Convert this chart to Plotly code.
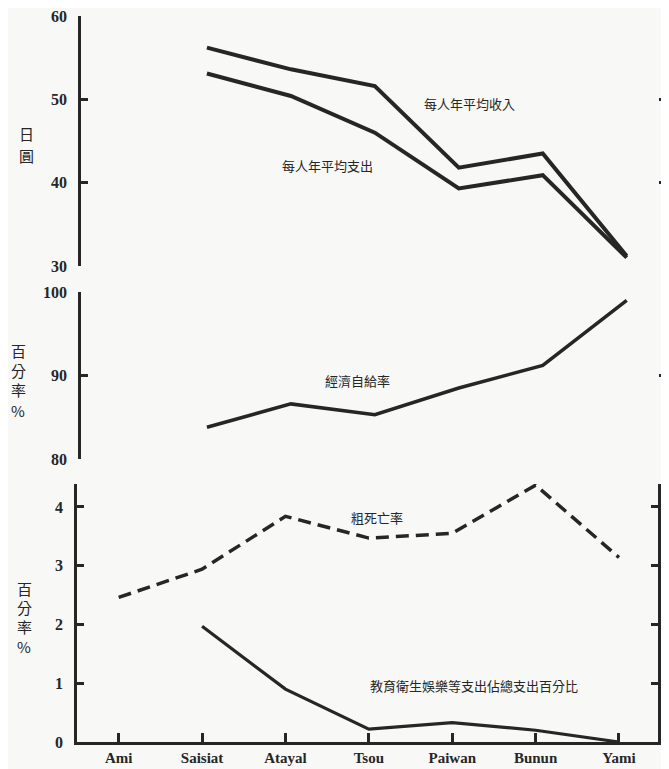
import plotly.graph_objects as go

# ---- data ----
categories = ["Ami", "Saisiat", "Atayal", "Tsou", "Paiwan", "Bunun", "Yami"]
income = [None, 56.2, 53.6, 51.6, 41.8, 43.5, 31.2]          # 每人年平均收入 (日圓)
expenditure = [None, 53.1, 50.4, 46.0, 39.3, 40.9, 31.0]     # 每人年平均支出 (日圓)
self_sufficiency = [None, 83.8, 86.6, 85.3, 88.5, 91.2, 99.0]  # 經濟自給率 (%)
death_rate = [2.46, 2.94, 3.84, 3.47, 3.55, 4.37, 3.14]        # 粗死亡率 (%)
edu_share = [None, 1.97, 0.90, 0.22, 0.33, 0.20, 0.0]          # 教育衛生娛樂等支出佔總支出百分比 (%)

top_ticks = [30, 40, 50, 60]
mid_ticks = [80, 90, 100]
bot_ticks = [0, 1, 2, 3, 4, 4.39]
bot_ticktext = ["0", "1", "2", "3", "4", ""]

INK = "#262626"
BG = "#f8f8f6"
NUM_FONT = dict(family="Liberation Serif", size=16, color=INK)
CJK = "Noto Sans CJK TC"

# page has an 8px body margin; figure is sized so it fits the window
OFF = 8
W, H = 669 - OFF, 769 - OFF

fig = go.Figure()
fig.add_trace(go.Scatter(x=categories, y=income, mode="lines",
                         line=dict(color=INK, width=4), xaxis="x", yaxis="y"))
fig.add_trace(go.Scatter(x=categories, y=expenditure, mode="lines",
                         line=dict(color=INK, width=4), xaxis="x", yaxis="y"))
fig.add_trace(go.Scatter(x=categories, y=self_sufficiency, mode="lines",
                         line=dict(color=INK, width=3.5), xaxis="x2", yaxis="y2"))
fig.add_trace(go.Scatter(x=categories, y=death_rate, mode="lines",
                         line=dict(color=INK, width=3.5, dash="13px,7px"), xaxis="x3", yaxis="y3"))
fig.add_trace(go.Scatter(x=categories, y=edu_share, mode="lines",
                         line=dict(color=INK, width=3.2), xaxis="x3", yaxis="y3"))

xrange = [-0.5, 6.468]
top_dom = [(81 - OFF) / W, (666 - OFF) / W]
bot_dom = [(77 - OFF) / W, (658 - OFF) / W]

hidden_x = dict(visible=False, range=xrange, type="category",
                categoryorder="array", categoryarray=categories)

yaxis_common = dict(showline=True, linecolor=INK, linewidth=2.5, mirror="ticks",
                    ticks="inside", ticklen=7, tickwidth=2.5, tickcolor=INK,
                    showgrid=False, zeroline=False, tickfont=NUM_FONT,
                    ticklabelstandoff=8, ticklabeloverflow="allow",
                    automargin=False, fixedrange=True)

fig.update_layout(
    width=W, height=H,
    margin=dict(l=0, r=0, t=16 - OFF, b=H - (742 - OFF)),
    paper_bgcolor=BG, plot_bgcolor=BG,
    showlegend=False,
    xaxis=dict(hidden_x, domain=top_dom, anchor="y"),
    xaxis2=dict(hidden_x, domain=top_dom, anchor="y2"),
    xaxis3=dict(domain=bot_dom, anchor="y3", range=xrange, type="category",
                categoryorder="array", categoryarray=categories,
                tickvals=categories, ticktext=["<b>%s</b>" % c for c in categories],
                showline=True, linecolor=INK, linewidth=2.5, mirror=False,
                ticks="inside", ticklen=9, tickwidth=2.5, tickcolor=INK,
                showgrid=False, zeroline=False,
                tickfont=dict(family="Liberation Serif", size=15, color=INK),
                ticklabelstandoff=0, ticklabeloverflow="allow", automargin=False),
    yaxis=dict(yaxis_common, domain=[476 / 726, 1.0], range=[30, 60],
               anchor="x", tickvals=top_ticks,
               ticktext=["<b>%d</b>" % v for v in top_ticks]),
    yaxis2=dict(yaxis_common, domain=[283 / 726, 450 / 726], range=[80, 100],
                anchor="x2", tickvals=mid_ticks,
                ticktext=["<b>%d</b>" % v for v in mid_ticks]),
    yaxis3=dict(yaxis_common, domain=[0, 258 / 726], range=[0, 4.39],
                anchor="x3", tickvals=bot_ticks,
                ticktext=["<b>%s</b>" % t if t else "" for t in bot_ticktext]),
)


def px(xp, yp):
    return (xp - OFF) / W, (742 - yp) / 726


labels = [
    ("每人年平均收入", 470, 103, 13),
    ("每人年平均支出", 327, 165, 13),
    ("經濟自給率", 357, 381, 13),
    ("粗死亡率", 377, 517, 13),
    ("教育衛生娛樂等支出佔總支出百分比", 474, 685, 13),
    # vertical axis titles, one glyph each
    ("日", 26, 133, 15), ("圓", 26, 155, 15),
    ("百", 18, 350, 15), ("分", 18, 370, 15), ("率", 18, 389, 15), ("%", 18, 410, 15),
    ("百", 24, 588, 15), ("分", 24, 607, 15), ("率", 24, 626, 15), ("%", 24, 646, 15),
]
for text, xp, yp, size in labels:
    xx, yy = px(xp, yp)
    fig.add_annotation(x=xx, y=yy, xref="paper", yref="paper", text=text,
                       showarrow=False, xanchor="center", yanchor="middle",
                       font=dict(family=CJK, size=size, color=INK),
                       align="center")

fig.write_html("out.html")
